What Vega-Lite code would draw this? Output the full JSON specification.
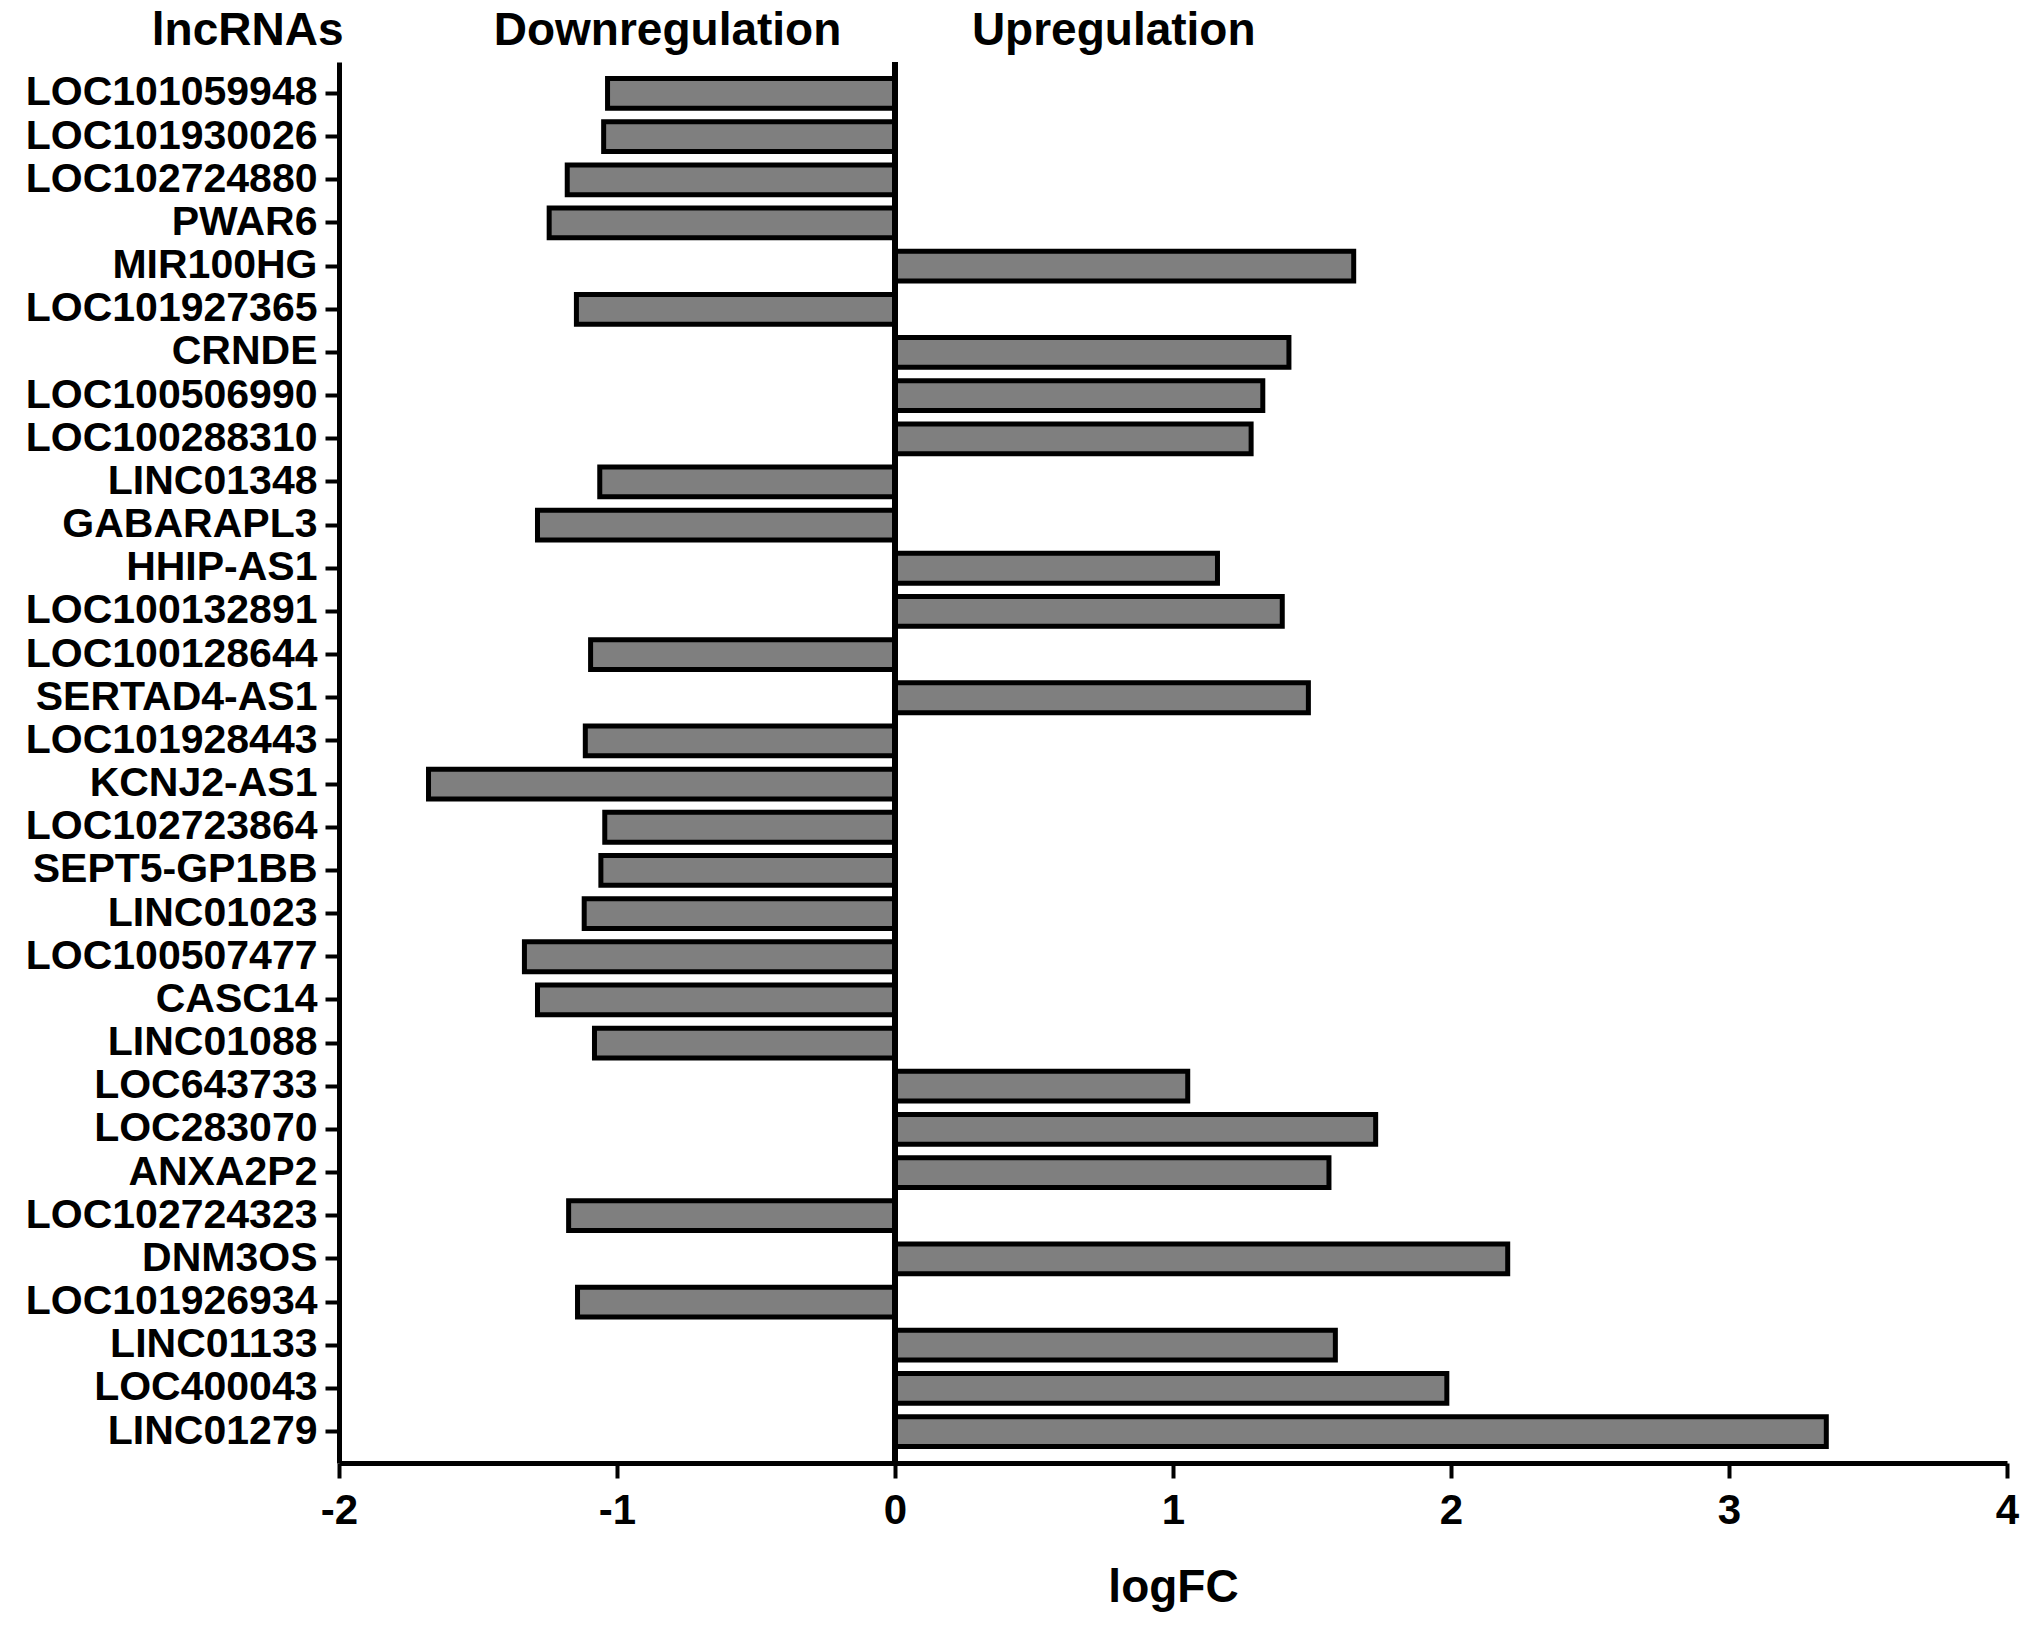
{
  "$schema": "https://vega.github.io/schema/vega-lite/v6.json",
  "autosize": {"type": "none"},
  "padding": {"left": 339, "top": 62, "right": 24, "bottom": 168},
  "width": 1668,
  "height": 1401,
  "background": "white",
  "config": {"view": {"stroke": null}, "font": "Liberation Sans"},
  "data": {"values": [
    {"gene": "LOC101059948", "logFC": -1.034},
    {"gene": "LOC101930026", "logFC": -1.048},
    {"gene": "LOC102724880", "logFC": -1.179},
    {"gene": "PWAR6", "logFC": -1.244},
    {"gene": "MIR100HG", "logFC": 1.650},
    {"gene": "LOC101927365", "logFC": -1.146},
    {"gene": "CRNDE", "logFC": 1.417},
    {"gene": "LOC100506990", "logFC": 1.323},
    {"gene": "LOC100288310", "logFC": 1.281},
    {"gene": "LINC01348", "logFC": -1.062},
    {"gene": "GABARAPL3", "logFC": -1.286},
    {"gene": "HHIP-AS1", "logFC": 1.160},
    {"gene": "LOC100132891", "logFC": 1.393},
    {"gene": "LOC100128644", "logFC": -1.095},
    {"gene": "SERTAD4-AS1", "logFC": 1.487},
    {"gene": "LOC101928443", "logFC": -1.114},
    {"gene": "KCNJ2-AS1", "logFC": -1.678},
    {"gene": "LOC102723864", "logFC": -1.044},
    {"gene": "SEPT5-GP1BB", "logFC": -1.058},
    {"gene": "LINC01023", "logFC": -1.118},
    {"gene": "LOC100507477", "logFC": -1.333},
    {"gene": "CASC14", "logFC": -1.286},
    {"gene": "LINC01088", "logFC": -1.081},
    {"gene": "LOC643733", "logFC": 1.053},
    {"gene": "LOC283070", "logFC": 1.729},
    {"gene": "ANXA2P2", "logFC": 1.561},
    {"gene": "LOC102724323", "logFC": -1.174},
    {"gene": "DNM3OS", "logFC": 2.204},
    {"gene": "LOC101926934", "logFC": -1.142},
    {"gene": "LINC01133", "logFC": 1.584},
    {"gene": "LOC400043", "logFC": 1.985},
    {"gene": "LINC01279", "logFC": 3.350}
  ]},
  "resolve": {"axis": {"x": "independent"}},
  "layer": [
    {
      "mark": {"type": "bar", "fill": "#7f7f7f", "stroke": "black", "strokeWidth": 5},
      "encoding": {
        "y": {
          "field": "gene", "type": "nominal", "sort": null,
          "scale": {"paddingInner": 0.31, "paddingOuter": 0.384},
          "axis": {
            "title": "lncRNAs", "titleAngle": 0, "titleAlign": "right", "titleBaseline": "alphabetic",
            "titleX": 4, "titleY": -18, "titleFontSize": 46, "titleFontWeight": "bold", "titleColor": "black",
            "titleFont": "Liberation Sans",
            "labelFont": "Liberation Sans", "labelFontSize": 41, "labelFontWeight": "bold", "labelColor": "black",
            "labelPadding": 8, "labelLimit": 1000,
            "domainColor": "black", "domainWidth": 5, "tickColor": "black", "tickWidth": 4, "tickSize": 14,
            "grid": false
          }
        },
        "x": {
          "field": "logFC", "type": "quantitative",
          "scale": {"domain": [-2, 4], "nice": false},
          "axis": {
            "orient": "bottom", "values": [-2, -1, 0, 1, 2, 3, 4],
            "labelExpr": "'' + datum.value",
            "title": "logFC", "titleFontSize": 46, "titleFontWeight": "bold", "titleColor": "black",
            "titleFont": "Liberation Sans", "titlePadding": 34,
            "labelFont": "Liberation Sans", "labelFontSize": 42, "labelFontWeight": "bold", "labelColor": "black",
            "labelPadding": 12, "labelFlush": false, "labelOverlap": false,
            "domainColor": "black", "domainWidth": 5, "tickColor": "black", "tickWidth": 4, "tickSize": 15,
            "grid": false
          }
        }
      }
    },
    {
      "mark": {"type": "rule", "stroke": "black", "strokeWidth": 5},
      "encoding": {
        "x": {
          "datum": 0, "type": "quantitative",
          "axis": {
            "orient": "top", "values": [-0.82, 0.785],
            "labelExpr": "datum.value < 0 ? 'Downregulation' : 'Upregulation'",
            "title": null, "domain": false, "ticks": false, "tickSize": 0, "grid": false,
            "labelFont": "Liberation Sans", "labelFontSize": 46, "labelFontWeight": "bold", "labelColor": "black",
            "labelBaseline": "alphabetic", "labelPadding": 18, "labelLimit": 1000,
            "labelFlush": false, "labelOverlap": false, "labelBound": false
          }
        }
      }
    }
  ]
}
